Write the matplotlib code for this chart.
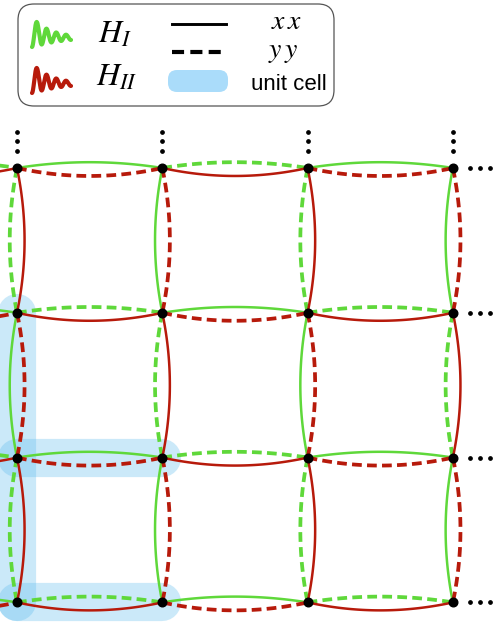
import numpy as np
import matplotlib.pyplot as plt
from matplotlib.patches import FancyBboxPatch

plt.rcParams['mathtext.fontset'] = 'stix'

# lattice (node index units), visible part of an infinite square lattice
cols = [0, 1, 2, 3]
rows = [0, 1, 2, 3]

# 1 -> green solid / red dashed, 0 -> green dashed / red solid
# horizontal bonds per row, starting with the stub coming in from col -1
h_green_solid = [
    [0, 1, 0, 1],
    [1, 0, 1, 0],
    [0, 1, 0, 1],
    [1, 0, 1, 0],
]
# vertical bonds per column, rows 0-1, 1-2, 2-3
v_green_solid = [
    [0, 1, 0],
    [1, 0, 1],
    [0, 1, 0],
    [1, 0, 1],
]

# unit cell: vertical arm on col 0 (rows 1..3), horizontal arms on rows 2,3 (cols 0..1)
cell_col, cell_rows_v = 0, [1, 3]
cell_rows_h, cell_cols_h = [2, 3], [0, 1]

dot_steps = [0.117, 0.186, 0.252]

terms = [r'$H_I$', r'$H_{II}$']
bonds = [r'$x\,x$', r'$y\,y$']
cell_label = 'unit cell'

GREEN = '#5fd83a'
RED = '#b71a0b'
BAND = '#5abbee'

fig = plt.figure(figsize=(5.04, 6.23), dpi=100)
ax = fig.add_axes([0, 0, 1, 1])
ax.set_xlim(-17 / 145.3, (504 - 17) / 145.3)
ax.set_ylim((623 - 168) / 144.8, -168 / 144.8)
ax.axis('off')

t = np.linspace(0, 1, 80)
bump = 4 * t * (1 - t)


def bond(xs, ys, color, solid):
    if solid:
        ax.plot(xs, ys, color=color, lw=1.8, solid_capstyle='round', zorder=2)
    else:
        ax.plot(xs, ys, color=color, lw=2.7, dashes=(2.6, 1.4),
                dash_capstyle='butt', zorder=2)


# horizontal bonds: green bows up, red bows down
for j, row in zip(rows, h_green_solid):
    for k, g in enumerate(row):
        i = k - 1
        bond(i + t, j - 0.040 * bump, GREEN, g == 1)
        bond(i + t, j + 0.055 * bump, RED, g == 0)

# vertical bonds: green bows left, red bows right
for i, col in zip(cols, v_green_solid):
    for j, g in enumerate(col):
        bond(i - 0.050 * bump, j + t, GREEN, g == 1)
        bond(i + 0.052 * bump, j + t, RED, g == 0)

# unit cell bands
ax.plot([cell_col, cell_col], cell_rows_v, color=BAND, alpha=0.31, lw=27.5,
        solid_capstyle='round', zorder=0)
for r in cell_rows_h:
    ax.plot(cell_cols_h, [r, r], color=BAND, alpha=0.31, lw=27.5,
            solid_capstyle='round', zorder=0)

# nodes
gx, gy = np.meshgrid(cols, rows)
ax.plot(gx.ravel(), gy.ravel(), 'o', color='black', ms=6.2, zorder=4)

# continuation dots
for i in cols:
    ax.plot([i] * 3, [rows[0] - s for s in dot_steps], 'o', color='black', ms=2.4, zorder=4)
for j in rows:
    ax.plot([cols[-1] + s for s in dot_steps], [j] * 3, 'o', color='black', ms=2.4, zorder=4)

# legend, drawn in pixel coordinates
lax = fig.add_axes([0, 0, 1, 1])
lax.set_xlim(0, 504)
lax.set_ylim(623, 0)
lax.axis('off')

lax.add_patch(FancyBboxPatch((18, 4), 316, 102, boxstyle='round,pad=0,rounding_size=16',
                             fc='white', ec='#555555', lw=0.9))

s = np.linspace(0, 1, 200)
wx = 32 + 39 * s
wy = 38 - 6 * np.exp(-3 * s) + 15 * np.exp(-1.9 * s) * np.cos(2 * np.pi * 4 * s)
lax.plot(wx, wy, color=GREEN, lw=3.0, solid_capstyle='round')
lax.plot(wx, wy + 46, color=RED, lw=3.0, solid_capstyle='round')

lax.text(98, 43, terms[0], fontsize=23, ha='left', va='baseline')
lax.text(96, 86, terms[1], fontsize=23, ha='left', va='baseline')

lax.plot([172, 226], [24, 24], color='black', lw=2.1)
lax.plot([172, 227], [52, 52], color='black', lw=3.0, dashes=(2.9, 1.5))
lax.add_patch(FancyBboxPatch((168, 70), 60, 22, boxstyle='round,pad=0,rounding_size=9',
                             fc='#aadcfa', ec='none'))

lax.text(286, 29, bonds[0], fontsize=20, ha='center', va='baseline')
lax.text(283, 57, bonds[1], fontsize=20, ha='center', va='baseline')
lax.text(289, 90, cell_label, fontsize=16, family='Liberation Sans', ha='center', va='baseline')

fig.savefig('out.png', dpi=100)
